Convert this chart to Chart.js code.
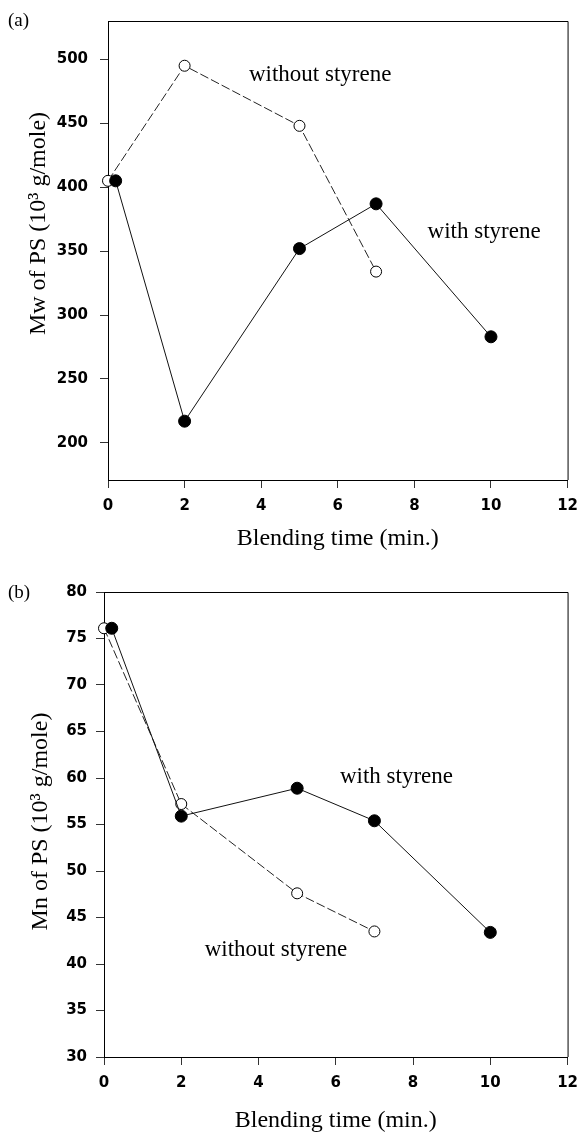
<!DOCTYPE html>
<html>
<head>
<meta charset="utf-8">
<script src="https://cdn.jsdelivr.net/npm/chart.js@4"></script>
<style>
  html, body { margin: 0; padding: 0; background: #fff; }
  .panel { position: absolute; left: 0; width: 587px; }
  #panelA { top: 0; height: 565px; }
  #panelB { top: 565px; height: 570px; }
</style>
</head>
<body>
<div class="panel" id="panelA"><canvas id="mwChart"></canvas></div>
<div class="panel" id="panelB"><canvas id="mnChart"></canvas></div>
<script>
// blending time (min.) for each run
const timeWith = [0.2, 2, 5, 7, 10];
const timeWithout = [0, 2, 5, 7];

// (a) Mw of PS, 10^3 g/mole
const mwWith = [405, 217, 352, 387, 283];
const mwWithout = [405, 495, 448, 334];

// (b) Mn of PS, 10^3 g/mole
const mnWith = [76.1, 55.9, 58.9, 55.4, 43.4];
const mnWithout = [76.1, 57.2, 47.6, 43.5];

// tick labels
const timeTicks = [0, 2, 4, 6, 8, 10, 12];
const mwTicks = [200, 250, 300, 350, 400, 450, 500];
const mnTicks = [30, 35, 40, 45, 50, 55, 60, 65, 70, 75, 80];

// curve labels, placed in data units
const mwNotes = [
    { text: "without styrene", x: 5.54, y: 488 },
    { text: "with styrene", x: 9.82, y: 365 }
];
const mnNotes = [
    { text: "with styrene", x: 7.57, y: 60.1 },
    { text: "without styrene", x: 4.45, y: 41.5 }
];

const tickFont = { family: "'DejaVu Sans', sans-serif", weight: "bold", size: 15 };
const titleFont = { family: "'Liberation Serif', serif", size: 24 };

function pointsFrom(xs, ys) {
    return xs.map((x, i) => ({ x: x, y: ys[i] }));
}

// box around the plot + curve labels + panel letter
const frameAndNotes = {
    id: "frameAndNotes",
    afterDraw(chart, args, opts) {
        const { ctx, chartArea: a, scales } = chart;
        ctx.save();
        ctx.strokeStyle = "#000";
        ctx.lineWidth = 1;
        ctx.beginPath();
        ctx.moveTo(a.left, a.top + 0.5);
        ctx.lineTo(a.right + 0.5, a.top + 0.5);
        ctx.lineTo(a.right + 0.5, a.bottom);
        ctx.stroke();

        ctx.fillStyle = "#000";
        ctx.font = "23px 'Liberation Serif', serif";
        ctx.textAlign = "center";
        ctx.textBaseline = "middle";
        opts.notes.forEach(n => {
            ctx.fillText(n.text, scales.x.getPixelForValue(n.x), scales.y.getPixelForValue(n.y));
        });

        ctx.font = "19px 'Liberation Serif', serif";
        ctx.textAlign = "left";
        ctx.fillText(opts.letter, 8, opts.letterY);
        ctx.restore();
    }
};

function makeChart(id, cfg) {
    const ctx = document.getElementById(id).getContext("2d");
    return new Chart(ctx, {
        type: "line",
        data: {
            datasets: [{
                label: "with styrene",
                data: pointsFrom(timeWith, cfg.withVals),
                borderColor: "#111",
                borderWidth: 1,
                pointRadius: 6,
                pointBackgroundColor: "#000",
                pointBorderColor: "#000",
                pointBorderWidth: 1,
                clip: false
            }, {
                label: "without styrene",
                data: pointsFrom(timeWithout, cfg.withoutVals),
                borderColor: "#222",
                borderWidth: 1,
                borderDash: [9, 3],
                pointRadius: 5.5,
                pointBackgroundColor: "#fff",
                pointBorderColor: "#000",
                pointBorderWidth: 1,
                clip: false
            }]
        },
        options: {
            responsive: true,
            maintainAspectRatio: false,
            animation: false,
            elements: { line: { tension: 0 } },
            layout: { padding: { top: cfg.padTop, right: cfg.padRight, left: 0, bottom: 0 } },
            scales: {
                x: {
                    type: "linear",
                    min: 0,
                    max: 12,
                    afterBuildTicks: s => { s.ticks = timeTicks.map(v => ({ value: v })); },
                    afterFit: s => { s.height = cfg.xHeight; },
                    grid: { drawOnChartArea: false, drawTicks: true, tickLength: 8, color: "#333" },
                    border: { display: true, color: "#000", width: 1 },
                    ticks: { color: "#000", font: tickFont, padding: 9, autoSkip: false, maxRotation: 0 },
                    title: {
                        display: true,
                        text: "Blending time (min.)",
                        color: "#000",
                        font: titleFont,
                        padding: { top: 0, bottom: cfg.xTitlePad }
                    }
                },
                y: {
                    type: "linear",
                    min: cfg.yMin,
                    max: cfg.yMax,
                    afterBuildTicks: s => { s.ticks = cfg.yTicks.map(v => ({ value: v })); },
                    afterFit: s => { s.width = cfg.yWidth; },
                    grid: { drawOnChartArea: false, drawTicks: true, tickLength: 8, color: "#333" },
                    border: { display: true, color: "#000", width: 1 },
                    ticks: { color: "#000", font: tickFont, padding: cfg.yTickPad, autoSkip: false },
                    title: {
                        display: true,
                        text: cfg.yTitle,
                        color: "#000",
                        font: titleFont,
                        padding: { top: cfg.yTitlePad, bottom: 0 }
                    }
                }
            },
            plugins: {
                legend: { display: false },
                tooltip: { enabled: false },
                frameAndNotes: { notes: cfg.notes, letter: cfg.letter, letterY: cfg.letterY }
            }
        },
        plugins: [frameAndNotes]
    });
}

makeChart("mwChart", {
    withVals: mwWith,
    withoutVals: mwWithout,
    yMin: 171, yMax: 530, yTicks: mwTicks,
    yTitle: "         Mw of PS (10\u00b3 g/mole)",
    padTop: 16, padRight: 11, xHeight: 85, yWidth: 108,
    yTickPad: 12, yTitlePad: 24, xTitlePad: 12,
    notes: mwNotes, letter: "(a)", letterY: 21
});

makeChart("mnChart", {
    withVals: mnWith,
    withoutVals: mnWithout,
    yMin: 30, yMax: 80, yTicks: mnTicks,
    yTitle: " Mn of PS (10\u00b3 g/mole)",
    padTop: 27, padRight: 14, xHeight: 78, yWidth: 104,
    yTickPad: 9, yTitlePad: 26, xTitlePad: 0,
    notes: mnNotes, letter: "(b)", letterY: 28
});
</script>
</body>
</html>
